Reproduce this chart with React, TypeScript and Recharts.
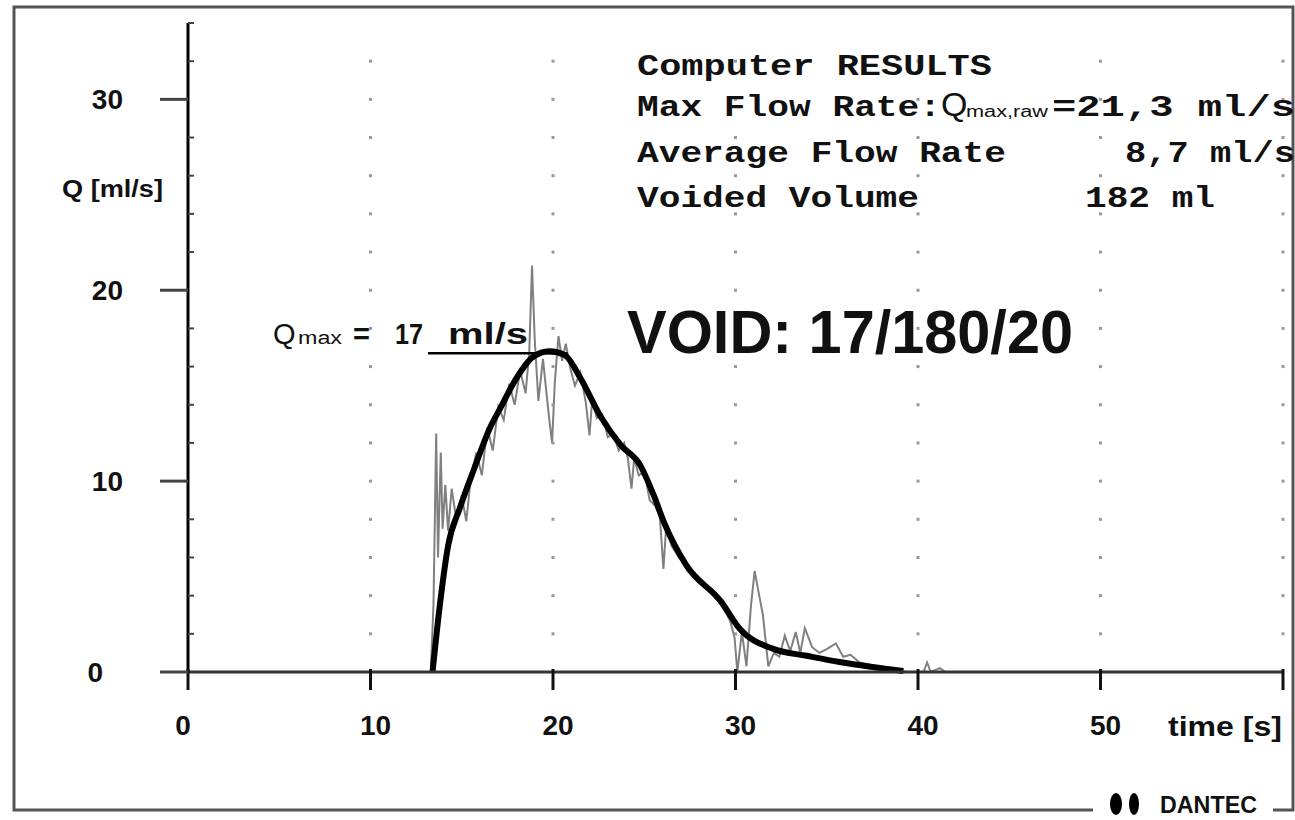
import React from "react";
import { ComposedChart, Line, XAxis, YAxis, Scatter, ReferenceLine } from "recharts";

// time axis ticks (s) and flow axis ticks (ml/s)
const xTicks = [0, 10, 20, 30, 40, 50, 60];
const xLabelTicks = [0, 10, 20, 30, 40, 50];
const yTicks = [0, 2, 4, 6, 8, 10, 12, 14, 16, 18, 20, 22, 24, 26, 28, 30, 32, 34];
const yLabelTicks = [0, 10, 20, 30];
const gridX = [10, 20, 30, 40, 50, 60];
const gridY = [2, 4, 6, 8, 10, 12, 14, 16, 18, 20, 22, 24, 26, 28, 30, 32];

// smoothed flow curve
const smoothT = [13.4, 13.8, 14.25, 14.9, 15.7, 16.55, 17.1, 18.0, 18.9, 19.8, 20.65, 21.5, 22.6, 23.7, 24.8, 25.5, 26.1, 27.3, 29.2, 30.2, 32.1, 33.9, 35.7, 37.5, 39.2];
const smoothQ = [0, 3.5, 6.6, 8.6, 10.7, 12.8, 13.8, 15.4, 16.5, 16.8, 16.6, 15.4, 13.4, 11.9, 10.8, 9.3, 7.8, 5.6, 3.7, 2.3, 1.2, 0.85, 0.52, 0.26, 0.05];

// raw flow signal
const rawT = [0, 13.3, 13.45, 13.6, 13.7, 13.85, 13.95, 14.1, 14.25, 14.45, 14.7, 15.0, 15.25, 15.5, 15.8, 16.1, 16.4, 16.7, 17.0, 17.3, 17.6, 17.9, 18.2, 18.5, 18.7, 18.85, 19.0, 19.2, 19.45, 19.6, 19.8, 19.95, 20.1, 20.3, 20.5, 20.7, 20.95, 21.2, 21.5, 21.8, 22.0, 22.15, 22.4, 22.7, 23.0, 23.3, 23.6, 23.9, 24.1, 24.3, 24.45, 24.7, 25.0, 25.3, 25.6, 25.85, 26.05, 26.2, 26.5, 26.9, 27.3, 27.7, 28.1, 28.5, 28.9, 29.3, 29.7, 29.95, 30.1, 30.35, 30.6, 30.85, 31.05, 31.3, 31.5, 31.8, 32.1, 32.4, 32.7, 33.0, 33.3, 33.55, 33.8, 34.2, 34.6, 35.0, 35.5, 35.9, 36.3, 36.8, 37.3, 37.8, 38.4, 39.0, 39.5, 40.3, 40.5, 40.7, 41.2, 41.5, 60];
const rawQ = [0, 0, 3.5, 12.5, 6.0, 11.5, 7.5, 9.8, 7.4, 9.6, 8.0, 9.2, 7.9, 10.2, 11.5, 10.3, 12.8, 11.6, 13.9, 13.2, 15.1, 14.0, 15.8, 14.6, 16.8, 21.3, 17.4, 14.2, 16.4, 15.0, 13.2, 12.0, 15.2, 17.6, 16.3, 17.2, 15.9, 15.0, 15.7, 14.1, 12.4, 14.3, 13.3, 13.5, 12.3, 12.5, 11.6, 12.0, 11.2, 9.6, 11.2, 10.3, 10.5, 9.0, 8.7, 8.2, 5.4, 7.6, 6.6, 6.0, 5.6, 5.1, 4.7, 4.3, 3.9, 3.4, 2.7, 1.8, 0, 2.1, 0.3, 3.5, 5.3, 4.0, 3.0, 0.3, 1.0, 0.8, 1.9, 1.1, 2.1, 1.0, 2.3, 1.3, 1.0, 1.2, 1.5, 0.8, 0.9, 0.5, 0.4, 0.3, 0.15, 0.05, 0, 0, 0.5, 0, 0.2, 0, 0];

// Qmax marker line
const qmaxValue = 16.7;
const qmaxFrom = 13.15;
const qmaxTo = 20.8;

const smoothData = smoothT.map((t, i) => ({ t, q: smoothQ[i] }));
const rawData = rawT.map((t, i) => ({ t, q: rawQ[i] }));
const gridData = gridX.flatMap((t) => gridY.map((q) => ({ t, q })));

const SANS = "'Liberation Sans', Arial, sans-serif";
const MONO = "'Liberation Mono', 'Courier New', monospace";

const YTick = (props: any) => {
  const { x, y, payload } = props;
  const v = payload.value;
  if (yLabelTicks.includes(v)) {
    return (
      <g>
        <line x1={x - 28} x2={x} y1={y} y2={y} stroke="#444" strokeWidth={3} />
        <text x={v === 0 ? x - 85 : x - 65} y={y + 10} textAnchor="end" fontFamily={SANS} fontWeight="bold" fontSize={28} fill="#111">
          {v}
        </text>
      </g>
    );
  }
  return <line x1={x} x2={x + 6} y1={y} y2={y} stroke="#444" strokeWidth={2} />;
};

const XTick = (props: any) => {
  const { x, y, payload } = props;
  const v = payload.value;
  return (
    <g>
      <line x1={x} x2={x} y1={y - 3} y2={y + 18} stroke="#111" strokeWidth={3} />
      {xLabelTicks.includes(v) && (
        <text x={v === 0 ? x - 5 : x + 5} y={y + 63} textAnchor="middle" fontFamily={SANS} fontWeight="bold" fontSize={28} fill="#111">
          {v}
        </text>
      )}
    </g>
  );
};

const GridDot = (props: any) => {
  const { cx, cy } = props;
  return <rect x={cx - 1.5} y={cy - 1.5} width={3} height={3} fill="#999" />;
};

export default function App() {
  return (
    <div style={{ position: "absolute", left: 0, top: 0, width: 1295, height: 820, background: "#fff" }}>
      <ComposedChart width={1295} height={820} margin={{ top: 23, right: 12, bottom: 68, left: 88 }}>
        <XAxis
          type="number"
          dataKey="t"
          domain={[0, 60]}
          ticks={xTicks}
          interval={0}
          height={80}
          tickSize={0}
          tickMargin={0}
          tickLine={false}
          axisLine={{ stroke: "#333", strokeWidth: 3 }}
          tick={<XTick />}
        />
        <YAxis
          type="number"
          dataKey="q"
          domain={[0, 34]}
          ticks={yTicks}
          interval={0}
          width={100}
          tickSize={0}
          tickMargin={0}
          tickLine={false}
          axisLine={{ stroke: "#000", strokeWidth: 3 }}
          tick={<YTick />}
        />
        <Scatter data={gridData} shape={<GridDot />} isAnimationActive={false} />
        <Line data={rawData} dataKey="q" type="linear" stroke="#808080" strokeWidth={2} dot={false} isAnimationActive={false} />
        <Line data={smoothData} dataKey="q" type="monotone" stroke="#000" strokeWidth={6} dot={false} isAnimationActive={false} />
        <ReferenceLine
          segment={[
            { x: qmaxFrom, y: qmaxValue },
            { x: qmaxTo, y: qmaxValue },
          ]}
          stroke="#000"
          strokeWidth={2.5}
        />
      </ComposedChart>
      <svg width={1295} height={820} style={{ position: "absolute", left: 0, top: 0, pointerEvents: "none" }}>
        <path d="M1093,810 H14 V7 H1293 V810 H1273" fill="none" stroke="#555" strokeWidth={3} />
        <ellipse cx={1116} cy={804} rx={6} ry={11} fill="#000" />
        <ellipse cx={1134} cy={804} rx={5} ry={11} fill="#000" />
        <text x={1160} y={813} fontFamily={SANS} fontWeight="bold" fontSize={23} textLength={97} lengthAdjust="spacingAndGlyphs" fill="#111">
          DANTEC
        </text>

        <text x={62} y={197} fontFamily={SANS} fontWeight="bold" fontSize={23} textLength={101} lengthAdjust="spacingAndGlyphs" fill="#111">
          Q [ml/s]
        </text>
        <text x={1168} y={736} fontFamily={SANS} fontWeight="bold" fontSize={28} textLength={114} lengthAdjust="spacingAndGlyphs" fill="#111">
          time [s]
        </text>

        <g fontFamily={MONO} fontWeight="bold" fontSize={29} fill="#111">
          <text x={637} y={75} textLength={355} lengthAdjust="spacingAndGlyphs">Computer RESULTS</text>
          <text x={637} y={116} textLength={304} lengthAdjust="spacingAndGlyphs">Max Flow Rate:</text>
          <text x={1052} y={116} textLength={243} lengthAdjust="spacingAndGlyphs">=21,3 ml/s</text>
          <text x={637} y={162} textLength={369} lengthAdjust="spacingAndGlyphs">Average Flow Rate</text>
          <text x={1125} y={162} textLength={170} lengthAdjust="spacingAndGlyphs">8,7 ml/s</text>
          <text x={637} y={207} textLength={282} lengthAdjust="spacingAndGlyphs">Voided Volume</text>
          <text x={1085} y={207} textLength={130} lengthAdjust="spacingAndGlyphs">182 ml</text>
        </g>
        <text x={941} y={116} fontFamily={SANS} fontSize={34} fill="#111">Q</text>
        <text x={966} y={117} fontFamily={SANS} fontSize={16} textLength={82} lengthAdjust="spacingAndGlyphs" fill="#111">max,raw</text>

        <text x={627} y={353} fontFamily={SANS} fontWeight="bold" fontSize={62} textLength={446} lengthAdjust="spacingAndGlyphs" fill="#111">
          VOID: 17/180/20
        </text>

        <g fontFamily={SANS} fill="#111">
          <text x={273} y={344} fontSize={29}>Q</text>
          <text x={298} y={344} fontSize={18} textLength={44} lengthAdjust="spacingAndGlyphs">max</text>
          <text x={353} y={344} fontSize={29} fontWeight="bold">=</text>
          <text x={395} y={344} fontSize={29} fontWeight="bold" textLength={28} lengthAdjust="spacingAndGlyphs">17</text>
          <text x={448} y={344} fontSize={29} fontWeight="bold" textLength={80} lengthAdjust="spacingAndGlyphs">ml/s</text>
        </g>
      </svg>
    </div>
  );
}
